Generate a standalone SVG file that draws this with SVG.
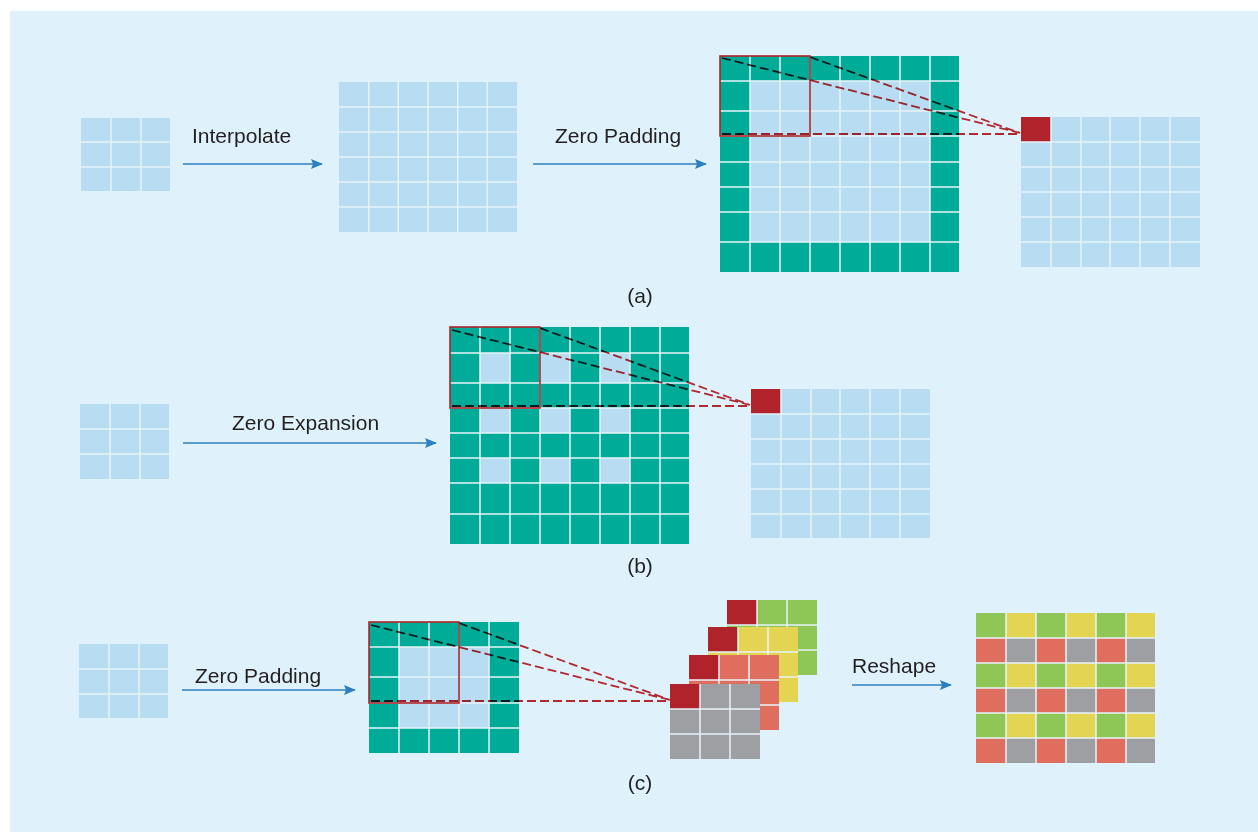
<svg xmlns="http://www.w3.org/2000/svg" width="1258" height="832" viewBox="0 0 1258 832">
<defs>
<style>
.bg{fill:#dff2fb}
.lb{fill:#b8dcf2}
.tl{fill:#00ac97}
.rd{fill:#b0232a}
.gn{fill:#8fc756}
.yl{fill:#e3d451}
.sa{fill:#e06e5e}
.gy{fill:#9e9fa3}
.gl{stroke:#e6f3fa;stroke-width:1.5;fill:none}
.box{fill:none;stroke:#b0232a;stroke-width:1.6}
.dash{fill:none;stroke:#cc2a30;stroke-width:1.8;stroke-dasharray:9 4;mix-blend-mode:multiply}
.arr{stroke:#2c80c2;stroke-width:1.5;fill:none;marker-end:url(#ah)}
.t{font-family:"Liberation Sans",Arial,sans-serif;font-size:21px;fill:#231f20}
</style>
<marker id="ah" viewBox="0 0 12 10" refX="11" refY="5" markerWidth="12" markerHeight="10" markerUnits="userSpaceOnUse" orient="auto">
<path d="M0,0 L12,5 L0,10 L2,5 Z" fill="#2c80c2"/>
</marker>
</defs>
<rect width="1258" height="832" fill="#ffffff"/>
<rect x="10" y="11" width="1248" height="821" class="bg"/>

<!-- ===== (a) ===== -->
<g id="a-input">
<rect x="81" y="118" width="89" height="73" class="lb"/>
<path class="gl" d="M111,118V191M141,118V191M81,142H170M81,167H170"/>
</g>
<g id="a-interp">
<rect x="339" y="82" width="178" height="150" class="lb"/>
<path class="gl" d="M368.7,82V232M398.3,82V232M428,82V232M457.7,82V232M487.3,82V232M339,107H517M339,132H517M339,157H517M339,182H517M339,207H517"/>
</g>
<g id="a-padded">
<rect x="720" y="56" width="239" height="216" class="tl"/>
<rect x="750" y="81" width="180" height="161" class="lb"/>
<path class="gl" d="M750,56V272M780,56V272M810,56V272M840,56V272M870,56V272M900,56V272M930,56V272M720,81H959M720,111H959M720,136H959M720,162H959M720,187H959M720,212H959M720,242H959"/>
<rect x="720" y="56" width="90" height="80" class="box"/>
</g>
<g id="a-output">
<rect x="1021" y="117" width="179" height="150" class="lb"/>
<rect x="1021" y="117" width="30" height="25" class="rd"/>
<path class="gl" d="M1051,117V267M1081,117V267M1110,117V267M1140,117V267M1170,117V267M1021,142H1200M1021,167H1200M1021,192H1200M1021,217H1200M1021,242H1200"/>
</g>
<text class="t" x="192" y="143">Interpolate</text>
<text class="t" x="555" y="143">Zero Padding</text>
<text class="t" x="640" y="303" text-anchor="middle">(a)</text>

<!-- ===== (b) ===== -->
<g id="b-input">
<rect x="80" y="404" width="89" height="75" class="lb"/>
<path class="gl" d="M110,404V479M140,404V479M80,429H169M80,454H169"/>
</g>
<g id="b-expanded">
<rect x="450" y="327" width="239" height="217" class="tl"/>
<rect x="480" y="353" width="30" height="30" class="lb"/>
<rect x="540" y="353" width="30" height="30" class="lb"/>
<rect x="600" y="353" width="30" height="30" class="lb"/>
<rect x="480" y="408" width="30" height="25" class="lb"/>
<rect x="540" y="408" width="30" height="25" class="lb"/>
<rect x="600" y="408" width="30" height="25" class="lb"/>
<rect x="480" y="458" width="30" height="25" class="lb"/>
<rect x="540" y="458" width="30" height="25" class="lb"/>
<rect x="600" y="458" width="30" height="25" class="lb"/>
<path class="gl" d="M480,327V544M510,327V544M540,327V544M570,327V544M600,327V544M630,327V544M660,327V544M450,353H689M450,383H689M450,408H689M450,433H689M450,458H689M450,483H689M450,514H689"/>
<rect x="450" y="327" width="90" height="81" class="box"/>
</g>
<g id="b-output">
<rect x="751" y="389" width="179" height="149" class="lb"/>
<rect x="751" y="389" width="30" height="25" class="rd"/>
<path class="gl" d="M781,389V538M811,389V538M840,389V538M870,389V538M900,389V538M751,414H930M751,439H930M751,464H930M751,489H930M751,514H930"/>
</g>
<text class="t" x="232" y="430">Zero Expansion</text>
<text class="t" x="640" y="573" text-anchor="middle">(b)</text>

<!-- ===== (c) ===== -->
<g id="c-input">
<rect x="79" y="644" width="89" height="74" class="lb"/>
<path class="gl" d="M109,644V718M139,644V718M79,669H168M79,694H168"/>
</g>
<g id="c-padded">
<rect x="369" y="622" width="150" height="131" class="tl"/>
<rect x="399" y="647" width="90" height="81" class="lb"/>
<path class="gl" d="M399,622V753M429,622V753M459,622V753M489,622V753M369,647H519M369,677H519M369,703H519M369,728H519"/>
<rect x="369" y="622" width="90" height="81" class="box"/>
</g>
<g id="c-kernels">
<rect x="727" y="600" width="90" height="75" class="gn"/>
<rect x="727" y="600" width="30" height="25" class="rd"/>
<path class="gl" d="M757,600V675M787,600V675M727,625H817M727,650H817"/>
<rect x="708" y="627" width="90" height="75" class="yl"/>
<rect x="708" y="627" width="30" height="25" class="rd"/>
<path class="gl" d="M738,627V702M768,627V702M708,652H798M708,677H798"/>
<rect x="689" y="655" width="90" height="75" class="sa"/>
<rect x="689" y="655" width="30" height="25" class="rd"/>
<path class="gl" d="M719,655V730M749,655V730M689,680H779M689,705H779"/>
<rect x="670" y="684" width="90" height="75" class="gy"/>
<rect x="670" y="684" width="30" height="25" class="rd"/>
<path class="gl" d="M700,684V759M730,684V759M670,709H760M670,734H760"/>
</g>
<g id="c-reshaped">
<rect x="976" y="613" width="30" height="25" class="gn"/><rect x="1006" y="613" width="30" height="25" class="yl"/><rect x="1036" y="613" width="30" height="25" class="gn"/><rect x="1066" y="613" width="30" height="25" class="yl"/><rect x="1096" y="613" width="30" height="25" class="gn"/><rect x="1126" y="613" width="29" height="25" class="yl"/>
<rect x="976" y="638" width="30" height="25" class="sa"/><rect x="1006" y="638" width="30" height="25" class="gy"/><rect x="1036" y="638" width="30" height="25" class="sa"/><rect x="1066" y="638" width="30" height="25" class="gy"/><rect x="1096" y="638" width="30" height="25" class="sa"/><rect x="1126" y="638" width="29" height="25" class="gy"/>
<rect x="976" y="663" width="30" height="25" class="gn"/><rect x="1006" y="663" width="30" height="25" class="yl"/><rect x="1036" y="663" width="30" height="25" class="gn"/><rect x="1066" y="663" width="30" height="25" class="yl"/><rect x="1096" y="663" width="30" height="25" class="gn"/><rect x="1126" y="663" width="29" height="25" class="yl"/>
<rect x="976" y="688" width="30" height="25" class="sa"/><rect x="1006" y="688" width="30" height="25" class="gy"/><rect x="1036" y="688" width="30" height="25" class="sa"/><rect x="1066" y="688" width="30" height="25" class="gy"/><rect x="1096" y="688" width="30" height="25" class="sa"/><rect x="1126" y="688" width="29" height="25" class="gy"/>
<rect x="976" y="713" width="30" height="25" class="gn"/><rect x="1006" y="713" width="30" height="25" class="yl"/><rect x="1036" y="713" width="30" height="25" class="gn"/><rect x="1066" y="713" width="30" height="25" class="yl"/><rect x="1096" y="713" width="30" height="25" class="gn"/><rect x="1126" y="713" width="29" height="25" class="yl"/>
<rect x="976" y="738" width="30" height="25" class="sa"/><rect x="1006" y="738" width="30" height="25" class="gy"/><rect x="1036" y="738" width="30" height="25" class="sa"/><rect x="1066" y="738" width="30" height="25" class="gy"/><rect x="1096" y="738" width="30" height="25" class="sa"/><rect x="1126" y="738" width="29" height="25" class="gy"/>
<path class="gl" d="M1006,613V763M1036,613V763M1066,613V763M1096,613V763M1126,613V763M976,638H1155M976,663H1155M976,688H1155M976,713H1155M976,738H1155"/>
</g>
<text class="t" x="195" y="683">Zero Padding</text>
<text class="t" x="852" y="673">Reshape</text>
<text class="t" x="640" y="790" text-anchor="middle">(c)</text>

<!-- ===== connectors ===== -->
<g id="connectors">
<path class="arr" d="M183,164H322"/>
<path class="arr" d="M533,164H706"/>
<path class="arr" d="M183,443H436"/>
<path class="arr" d="M182,690H355"/>
<path class="arr" d="M852,685H951"/>
<path class="dash" d="M722,58L1020,133M810,57L1020,133M722,134H1020"/>
<path class="dash" d="M452,330L750,405M540,328L750,405M452,406H750"/>
<path class="dash" d="M371,625L670,700M459,623L670,700M371,701H670"/>
</g>
</svg>
